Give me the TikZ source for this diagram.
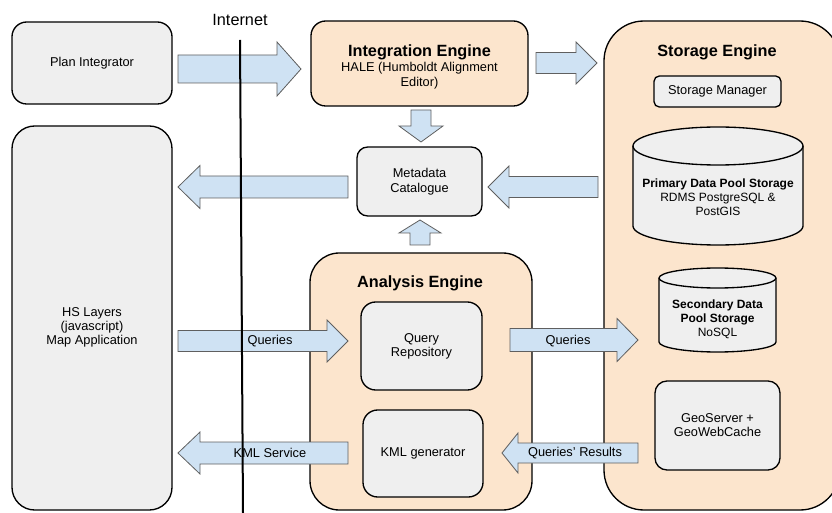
\documentclass[tikz,border=0pt]{standalone}
\usepackage{fontspec}
\setmainfont{Liberation Sans}
\definecolor{boxgray}{HTML}{EFEFEF}
\definecolor{peach}{HTML}{FCE5CD}
\definecolor{arrowblue}{HTML}{CFE2F3}
\definecolor{arrowline}{HTML}{5F5F5F}
\newcommand{\hblock}[6]{% tail x, tip x, y, half body, half head, signed head length
  \draw[blockarrow] ({#1},{#3-#4}) -- ({#2-(#6)},{#3-#4}) -- ({#2-(#6)},{#3-#5}) -- ({#2},{#3})
    -- ({#2-(#6)},{#3+#5}) -- ({#2-(#6)},{#3+#4}) -- ({#1},{#3+#4}) -- cycle;}
\newcommand{\vblock}[6]{% tail y, tip y, x, half body, half head, signed head length
  \draw[blockarrow] ({#3-#4},{#1}) -- ({#3-#4},{#2-(#6)}) -- ({#3-#5},{#2-(#6)}) -- ({#3},{#2})
    -- ({#3+#5},{#2-(#6)}) -- ({#3+#4},{#2-(#6)}) -- ({#3+#4},{#1}) -- cycle;}
\tikzset{
  box/.style={draw=black, line width=1pt, fill=boxgray, align=center, inner sep=0pt,
    font=\fontsize{9.6}{10.5}\selectfont},
  engine/.style={draw=black, line width=1pt, fill=peach, inner sep=0pt, align=center,
    font=\fontsize{9.6}{11.5}\selectfont},
  titletext/.style={font=\fontsize{12.2}{14}\selectfont\bfseries, inner sep=0pt},
  cyltext/.style={align=center, inner sep=0pt, font=\fontsize{9}{10.5}\selectfont},
  cylshape/.style={draw=black, line width=1pt, fill=boxgray},
  blockarrow/.style={draw=arrowline, line width=0.6pt, fill=arrowblue, line join=miter},
  lbl/.style={font=\fontsize{9.6}{10.5}\selectfont, inner sep=0pt, align=center},
}
\begin{document}
\begin{tikzpicture}[x=0.75pt, y=-0.75pt]
\clip (0,0) rectangle (832,513);

% engines (backgrounds)
\node[engine, minimum width=162.75pt, minimum height=63.75pt, rounded corners=11pt] (integ) at (419.5,63.5) {};
\node[engine, draw=none, fill=none] (integtext) at (419.5,67)
  {{\fontsize{12.2}{15.5}\selectfont\bfseries Integration Engine}\\HALE (Humboldt Alignment\\Editor)};
\node[engine, minimum width=177pt, minimum height=366.75pt, rounded corners=30pt] (storage) at (722,265.5) {};
\node[titletext] (storagetitle) at (717,52) {Storage Engine};
\node[engine, minimum width=166.5pt, minimum height=192.75pt, rounded corners=22pt] (analysis) at (421,381.5) {};
\node[titletext] (analysistitle) at (420,283) {Analysis Engine};

% plain boxes
\node[box, minimum width=120pt, minimum height=61.5pt, rounded corners=11pt] (plan) at (92,63) {Plan Integrator};
\node[box, minimum width=120pt, minimum height=288pt, rounded corners=17pt] (hs) at (92,318) {};
\node[lbl] (hstext) at (92,327) {HS Layers\\(javascript)\\Map Application};
\node[box, minimum width=95.25pt, minimum height=23.25pt, rounded corners=4pt] (manager) at (717.5,91.5) {Storage Manager};
\node[box, minimum width=93.75pt, minimum height=51.75pt, rounded corners=8pt,
  font=\fontsize{9.6}{11.5}\selectfont] (meta) at (419.5,181.5) {Metadata\\Catalogue};
\node[box, minimum width=90.75pt, minimum height=66pt, rounded corners=11pt] (query) at (421.5,346) {Query\\Repository};
\node[box, minimum width=90pt, minimum height=65.25pt, rounded corners=11pt] (kml) at (423,453.5) {KML generator};
\node[box, minimum width=93.75pt, minimum height=66.75pt, rounded corners=9pt] (geo) at (717.5,425.5) {GeoServer +\\GeoWebCache};

% primary cylinder
\path[cylshape] (633,146) -- (633,226) arc[start angle=180, end angle=360, x radius=63.75pt, y radius=14.25pt]
  -- (803,146) arc[start angle=0, end angle=180, x radius=63.75pt, y radius=14.25pt] -- cycle;
\draw[line width=1pt] (633,146) arc[start angle=180, end angle=360, x radius=63.75pt, y radius=14.25pt];
\node[cyltext] (primary) at (718,197)
  {{\bfseries Primary Data Pool Storage}\\RDMS PostgreSQL \&\\PostGIS};

% secondary cylinder
\path[cylshape] (659,278) -- (659,342) arc[start angle=180, end angle=360, x radius=43.875pt, y radius=7.5pt]
  -- (776,278) arc[start angle=0, end angle=180, x radius=43.875pt, y radius=7.5pt] -- cycle;
\draw[line width=1pt] (659,278) arc[start angle=180, end angle=360, x radius=43.875pt, y radius=7.5pt];
\node[cyltext] (secondary) at (717.5,319)
  {{\bfseries Secondary Data}\\{\bfseries Pool Storage}\\NoSQL};

% block arrows
\hblock{178}{301}{69}{14}{27}{24}
\hblock{536}{597}{63}{10.5}{21}{21}
\hblock{598}{488}{187}{10.5}{21}{-21}
\hblock{348}{178}{187}{11}{21.5}{-22}
\vblock{110}{142}{421}{10}{22}{16}
\vblock{245}{220}{420}{10}{21}{-13}
\hblock{178}{348}{341}{10.5}{21}{21}
\hblock{510}{638}{340}{11.5}{21.5}{21}
\hblock{638}{502}{453}{10}{20}{-16}
\hblock{348}{178}{453}{11}{21}{-22}

\node[lbl] (q1) at (270,341) {Queries};
\node[lbl] (q2) at (568,341) {Queries};
\node[lbl] (kmls) at (270,453) {KML Service};
\node[lbl] (qres) at (575,453) {Queries' Results};

% internet line
\node[font=\fontsize{12.2}{14}\selectfont, inner sep=0pt] (inet) at (240,20) {Internet};
\coordinate (inettop) at (240,40);
\coordinate (inetbot) at (243,513);
\draw[line width=1.5pt] (inettop) -- (inetbot);
\end{tikzpicture}
\end{document}
